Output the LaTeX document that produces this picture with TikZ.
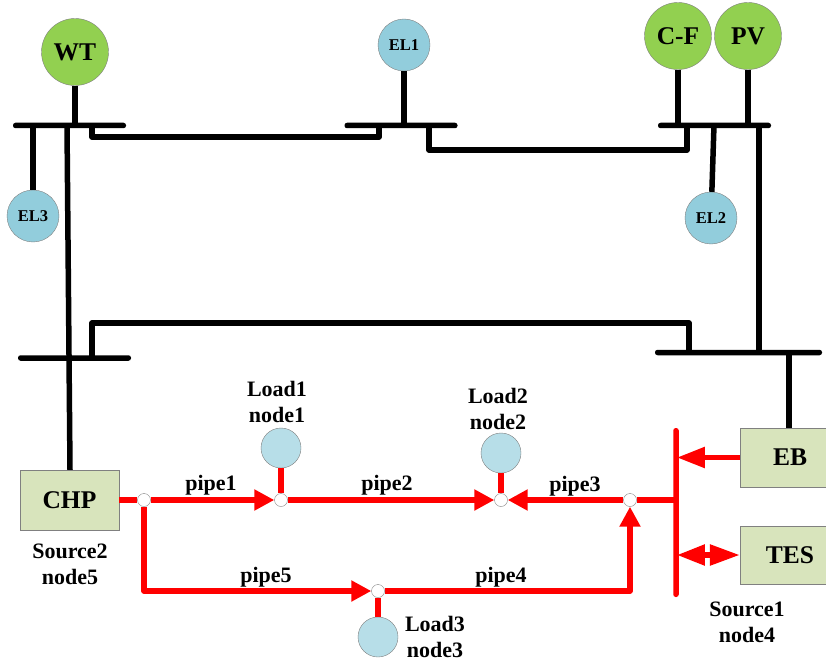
\documentclass[tikz,border=0pt]{standalone}
\usepackage{fontspec}
\setmainfont{Liberation Serif}
\usetikzlibrary{arrows.meta,positioning,calc}
\definecolor{gengreen}{HTML}{92D050}
\definecolor{elblue}{HTML}{92CDDC}
\definecolor{loadblue}{HTML}{B7DEE8}
\definecolor{srcgreen}{HTML}{D8E4BC}
\tikzset{
  gen/.style={circle,draw=gray,fill=gengreen,minimum size=67pt,inner sep=0pt,font=\bfseries\fontsize{25.5}{25.5}\selectfont},
  elload/.style={circle,draw=gray,fill=elblue,minimum size=52pt,inner sep=0pt,font=\bfseries\fontsize{16.5}{16.5}\selectfont},
  heatload/.style={circle,draw=gray,fill=loadblue,minimum size=40pt,inner sep=0pt},
  junc/.style={circle,draw=gray,fill=white,minimum size=13pt,inner sep=0pt},
  src/.style={rectangle,draw=gray,fill=srcgreen,inner sep=0pt,font=\bfseries\fontsize{25.5}{25.5}\selectfont},
  ebus/.style={rectangle,fill=black,rounded corners=2.5pt,minimum height=5.5pt,inner sep=0pt},
  hbus/.style={rectangle,fill=red,rounded corners=2.5pt,minimum width=5.5pt,inner sep=0pt},
  tie/.style={line width=5.5pt,line join=round},
  pipeline/.style={line width=5.5pt,draw=red,line join=round},
  lbl/.style={align=center,inner sep=0pt,font=\bfseries\fontsize{22}{26.5}\selectfont},
}
\begin{document}
\begin{tikzpicture}[>={Triangle[length=20pt,width=20pt]},x=1pt,y=-1pt]
\useasboundingbox (0,0) rectangle (826,663);
% buses
\node[ebus,minimum width=113pt] (busA) at (69.5,125.5) {};
\node[ebus,minimum width=113pt] (busB) at (401,125.5) {};
\node[ebus,minimum width=113pt] (busC) at (714.5,125.5) {};
\node[ebus,minimum width=113pt] (busD) at (74.5,358) {};
\node[ebus,minimum width=167pt] (busE) at (738.5,352.5) {};
\node[hbus,minimum height=169pt] (busH) at (676,512.5) {};
% sources and loads
\node[gen] (WT) at (75,52) {WT};
\node[gen] (CF) at (678,36) {C-F};
\node[gen] (PV) at (748,36) {PV};
\node[elload] (EL1) at (404,45) {EL1};
\node[elload] (EL2) at (711,218) {EL2};
\node[elload] (EL3) at (33,216) {EL3};
\node[src,minimum width=99pt,minimum height=60pt] (CHP) at (69.5,500) {CHP};
\node[src,minimum width=100pt,minimum height=59pt] (EB) at (790,457.5) {EB};
\node[src,minimum width=100pt,minimum height=58pt] (TES) at (790,555) {TES};
\node[heatload] (LA) at (281,448) {};
\node[heatload] (LB) at (501,453) {};
\node[heatload] (LC) at (378,637) {};
\node[junc] (jA) at (281,500) {};
\node[junc] (jB) at (501,500) {};
\node[junc] (jC) at (378,591) {};
\node[junc] (jD) at (630,500) {};
\node[junc] (jE) at (144,500) {};
% electric lines
\coordinate (tA) at (92,125);\coordinate (tB) at (379,125);
\coordinate (tC) at (429,125);\coordinate (tD) at (687,125);
\coordinate (tE) at (92,358);\coordinate (tF) at (689,352);
\coordinate (sA) at (67,125);\coordinate (sB) at (714,125);
\draw[tie] (WT) -- (WT|-busA);
\draw[tie] (EL1) -- (EL1|-busB);
\draw[tie] (CF) -- (CF|-busC);
\draw[tie] (PV) -- (PV|-busC);
\draw[tie] (EL3) -- (EL3|-busA);
\draw[tie] (sB) -- (EL2);
\draw[tie] (sA) -- ($(CHP.north)+(0.5,0)$);
\draw[tie] (busE-|759,0) -- (759,125);
\draw[tie] (busE-|789,0) -- (789,428);
\draw[tie] (tA) -- ++(0,12) -| (tB);
\draw[tie] (tC) -- ++(0,25) -| (tD);
\draw[tie] (tE) -- ++(0,-35) -| (tF);
% heat pipes
\draw[pipeline] (LA) -- (jA);
\draw[pipeline] (LB) -- (jB);
\draw[pipeline] (LC) -- (jC);
\draw[pipeline] (CHP) -- (jE);
\draw[pipeline,->] (jE) -- (jA);
\draw[pipeline,->] (jA) -- (jB);
\draw[pipeline,->] (jD) -- (jB);
\draw[pipeline] (jD) -- (jD-|busH);
\draw[pipeline,->] (jE) |- (jC);
\draw[pipeline,->] (jC) -| (jD);
\draw[pipeline,-{Triangle[length=28pt,width=20pt]},shorten >=-2pt] (EB.west) -- (EB.west-|busH.east);
\draw[pipeline,{Triangle[length=28pt,width=20pt]}-{Triangle[length=30pt,width=20pt]},shorten <=-2pt] (TES.west-|busH.east) -- (TES.west);
% labels
\node[lbl] (tpA) at (211,485) {pipe1};
\node[lbl] (tpB) at (387,485) {pipe2};
\node[lbl] (tpC) at (575,486) {pipe3};
\node[lbl] (tpD) at (501,577) {pipe4};
\node[lbl] (tpE) at (266,577) {pipe5};
\node[lbl] (tLA) at (277,402) {Load1\\node1};
\node[lbl] (tLB) at (498,409) {Load2\\node2};
\node[lbl] (tLC) at (435,637) {Load3\\node3};
\node[lbl] (tSA) at (747,622.5) {Source1\\node4};
\node[lbl] (tSB) at (70,564.5) {Source2\\node5};
\end{tikzpicture}
\end{document}
